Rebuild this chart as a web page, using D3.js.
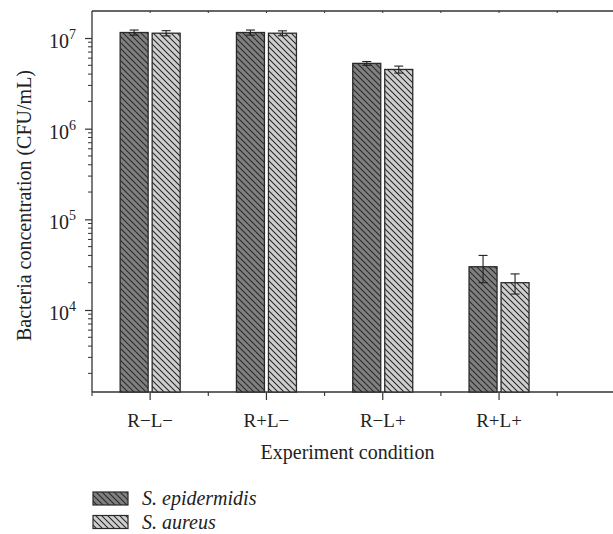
<!DOCTYPE html>
<html><head><meta charset="utf-8">
<script src="https://cdn.jsdelivr.net/npm/d3@7"></script>
<style>body{margin:0;background:#fff} svg{display:block}</style>
</head><body>
<script>
const categories = ["R−L−", "R+L−", "R−L+", "R+L+"];
const seriesNames = ["S. epidermidis", "S. aureus"];
const epidermidis = [1.15e7, 1.15e7, 5.25e6, 3.0e4];
const epidermidisErr = [0.075e7, 0.075e7, 0.25e6, 1.0e4];
const aureus = [1.13e7, 1.13e7, 4.5e6, 2.0e4];
const aureusErr = [0.075e7, 0.07e7, 0.4e6, 0.5e4];
const yTickExponents = [4, 5, 6, 7];
const xTitle = "Experiment condition";
const yTitle = "Bacteria concentration (CFU/mL)";

(function () {
const W = 613, H = 534;
const pLeft = 92, pTop = 11, pBottom = 392, pRight = 613;
const FONT = "'Liberation Serif', 'Times New Roman', serif";
const axisColor = "#333";

const svg = d3.select("body").append("svg").attr("width", W).attr("height", H)
  .style("font-family", FONT);

const defs = svg.append("defs");
function hatch(id, bg) {
  const p = defs.append("pattern").attr("id", id).attr("patternUnits", "userSpaceOnUse")
    .attr("width", 6).attr("height", 6);
  p.append("rect").attr("width", 6).attr("height", 6).attr("fill", bg);
  p.append("path").attr("d", "M0,0 L6,6 M-1,5 L1,7 M5,-1 L7,1")
    .attr("stroke", "#2a2a2a").attr("stroke-width", 1.1);
}
hatch("hDark", "#808080");
hatch("hLight", "#cfcfcf");
const fills = ["url(#hDark)", "url(#hLight)"];

const x = d3.scaleBand().domain(categories).range([pLeft, pLeft + 4 * 116.3]).paddingInner(0).paddingOuter(0);
const xs = d3.scaleBand().domain(seriesNames).range([-30, 30]).paddingInner(0.125);
const y = d3.scaleLog().domain([1246, 1.986e7]).range([pBottom, pTop]);

// frame lines
svg.append("line").attr("x1", pLeft).attr("x2", pRight).attr("y1", pTop).attr("y2", pTop)
  .attr("stroke", axisColor).attr("stroke-width", 1.3);
svg.append("line").attr("x1", pLeft).attr("x2", pRight).attr("y1", pBottom).attr("y2", pBottom)
  .attr("stroke", axisColor).attr("stroke-width", 1.3);
svg.append("line").attr("x1", pLeft).attr("x2", pLeft).attr("y1", pTop).attr("y2", pBottom)
  .attr("stroke", axisColor).attr("stroke-width", 1.3);

// top small ticks
const topTicks = [];
categories.forEach(c => { topTicks.push(x(c) + x.bandwidth() / 2); topTicks.push(x(c) + x.bandwidth()); });
svg.append("g").selectAll("line").data(topTicks).join("line")
  .attr("x1", d => d).attr("x2", d => d).attr("y1", pTop).attr("y2", pTop + 2)
  .attr("stroke", axisColor).attr("stroke-width", 1);

// bottom axis
const gx = svg.append("g").attr("transform", `translate(0,${pBottom})`)
  .call(d3.axisBottom(x).tickSize(8).tickPadding(14));
gx.select(".domain").remove();
gx.selectAll(".tick line").attr("stroke", axisColor).attr("stroke-width", 1.2);
gx.selectAll(".tick text").attr("font-size", 19).attr("fill", "#222").attr("font-family", FONT);
const bMinor = [pLeft].concat(categories.map(c => x(c) + x.bandwidth()));
svg.append("g").selectAll("line").data(bMinor).join("line")
  .attr("x1", d => d).attr("x2", d => d).attr("y1", pBottom).attr("y2", pBottom + 4)
  .attr("stroke", axisColor).attr("stroke-width", 1.1);

// y axis ticks
const majors = yTickExponents.map(e => Math.pow(10, e));
const minors = [];
for (let e = 3; e <= 7; e++) for (let m = 2; m <= 9; m++) {
  const v = m * Math.pow(10, e);
  if (v >= y.domain()[0] && v <= y.domain()[1]) minors.push(v);
}
const gy = svg.append("g").attr("transform", `translate(${pLeft},0)`)
  .call(d3.axisLeft(y).tickValues(majors).tickSize(7).tickFormat(""));
gy.select(".domain").remove();
gy.selectAll(".tick line").attr("stroke", axisColor).attr("stroke-width", 1.2);
svg.append("g").selectAll("line").data(minors).join("line")
  .attr("x1", pLeft - 4).attr("x2", pLeft).attr("y1", d => y(d)).attr("y2", d => y(d))
  .attr("stroke", axisColor).attr("stroke-width", 1);
const yl = svg.append("g").selectAll("text").data(yTickExponents).join("text")
  .attr("x", 76).attr("y", d => y(Math.pow(10, d)) + 10)
  .attr("text-anchor", "end").attr("font-size", 20).attr("fill", "#222");
yl.append("tspan").text("10");
yl.append("tspan").attr("dy", -9).attr("font-size", 14).text(d => d);

// bars
const series = [
  {name: seriesNames[0], values: epidermidis, err: epidermidisErr, fill: fills[0]},
  {name: seriesNames[1], values: aureus, err: aureusErr, fill: fills[1]}
];
series.forEach(s => {
  const g = svg.append("g");
  const data = categories.map((c, i) => ({c, v: s.values[i], e: s.err[i]}));
  g.selectAll("rect").data(data).join("rect")
    .attr("x", d => x(d.c) + x.bandwidth() / 2 + xs(s.name))
    .attr("y", d => y(d.v))
    .attr("width", xs.bandwidth())
    .attr("height", d => pBottom - y(d.v))
    .attr("fill", s.fill).attr("stroke", "#2a2a2a").attr("stroke-width", 1.3);
  const cx = d => x(d.c) + x.bandwidth() / 2 + xs(s.name) + xs.bandwidth() / 2;
  g.selectAll("line.v").data(data).join("line").attr("class", "v")
    .attr("x1", cx).attr("x2", cx).attr("y1", d => y(d.v + d.e)).attr("y2", d => y(d.v - d.e))
    .attr("stroke", "#222").attr("stroke-width", 1.1);
  g.selectAll("line.t").data(data).join("line").attr("class", "t")
    .attr("x1", d => cx(d) - 4.5).attr("x2", d => cx(d) + 4.5).attr("y1", d => y(d.v + d.e)).attr("y2", d => y(d.v + d.e))
    .attr("stroke", "#222").attr("stroke-width", 1.1);
  g.selectAll("line.b").data(data).join("line").attr("class", "b")
    .attr("x1", d => cx(d) - 4.5).attr("x2", d => cx(d) + 4.5).attr("y1", d => y(d.v - d.e)).attr("y2", d => y(d.v - d.e))
    .attr("stroke", "#222").attr("stroke-width", 1.1);
});

// titles
svg.append("text").attr("x", (pLeft + pRight) / 2 - 5).attr("y", 459)
  .attr("text-anchor", "middle").attr("font-size", 20).attr("fill", "#222").text(xTitle);
svg.append("text").attr("transform", `translate(31,${(pTop + pBottom) / 2 + 4}) rotate(-90)`)
  .attr("text-anchor", "middle").attr("font-size", 20).attr("fill", "#222").text(yTitle);

// legend
const lg = svg.append("g");
seriesNames.forEach((n, i) => {
  const yy = 492 + i * 23.5;
  lg.append("rect").attr("x", 93).attr("y", yy).attr("width", 35).attr("height", 13)
    .attr("fill", fills[i]).attr("stroke", "#2a2a2a").attr("stroke-width", 1.2);
  lg.append("text").attr("x", 142).attr("y", yy + 13).attr("font-size", 20)
    .attr("font-style", "italic").attr("fill", "#222").text(n);
});
})();
</script>
</body></html>
